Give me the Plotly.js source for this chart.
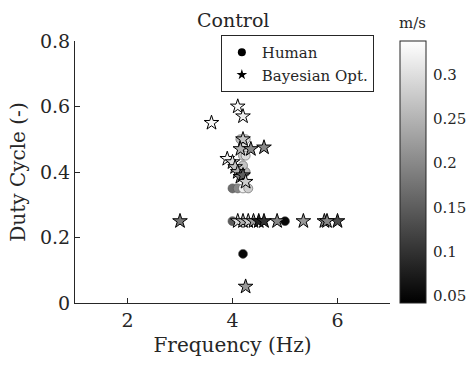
<!DOCTYPE html>
<html><head><meta charset="utf-8">
<script src="https://cdn.plot.ly/plotly-3.0.1.min.js"></script>
<style>html,body{margin:0;padding:0;background:#fff}#chart{width:471px;height:369px}</style>
</head><body><div id="chart"></div>
<script>
// Human trials
const humanFreq  = [4.0, 5.0, 4.2, 4.0, 4.1, 4.2, 4.3, 4.25, 4.2, 4.2, 4.25, 4.2, 4.25, 4.15];
const humanDuty  = [0.25, 0.25, 0.15, 0.35, 0.35, 0.35, 0.35, 0.40, 0.42, 0.45, 0.45, 0.48, 0.50, 0.50];
const humanSpeed = [0.15, 0.05, 0.05, 0.17, 0.20, 0.32, 0.28, 0.25, 0.27, 0.28, 0.30, 0.30, 0.30, 0.26];
// Bayesian optimisation trials
const boFreq  = [3.0, 3.6, 4.1, 4.2, 4.6, 4.25, 4.2, 4.15, 4.35, 3.9, 4.0, 4.05, 4.1, 4.15, 4.2, 4.25,
                 4.1, 4.2, 4.3, 4.4, 4.5, 4.6, 4.85, 5.35, 5.75, 6.0, 5.8];
const boDuty  = [0.25, 0.55, 0.60, 0.57, 0.475, 0.05, 0.50, 0.47, 0.47, 0.44, 0.43, 0.415, 0.40, 0.385, 0.39, 0.37,
                 0.25, 0.25, 0.25, 0.25, 0.25, 0.25, 0.25, 0.25, 0.25, 0.25, 0.25];
const boSpeed = [0.18, 0.33, 0.33, 0.32, 0.20, 0.22, 0.27, 0.25, 0.20, 0.33, 0.30, 0.27, 0.25, 0.20, 0.15, 0.28,
                 0.30, 0.25, 0.28, 0.22, 0.08, 0.10, 0.20, 0.22, 0.20, 0.13, 0.20];
const legendNames = ['Human', 'Bayesian Opt.'];
const cbTicks = [0.05, 0.1, 0.15, 0.2, 0.25, 0.3];

const serif = 'DejaVu Serif, serif';
const cs = [[0, '#000000'], [1, '#ffffff']];
const cmin = 0.042, cmax = 0.338;

const traces = [
  {x: humanFreq, y: humanDuty, type: 'scatter', mode: 'markers', showlegend: false,
   marker: {symbol: 'circle', size: 9, color: humanSpeed, colorscale: cs, cmin: cmin, cmax: cmax,
            line: {color: '#555', width: 0.6}, showscale: false}},
  {x: boFreq, y: boDuty, type: 'scatter', mode: 'markers', showlegend: false,
   marker: {symbol: 'star', size: 11, color: boSpeed, colorscale: cs, cmin: cmin, cmax: cmax,
            line: {color: '#000', width: 1},
            showscale: true,
            colorbar: {x: 1.032, xanchor: 'left', y: 0, yanchor: 'bottom', len: 1, lenmode: 'fraction',
                       thickness: 26, thicknessmode: 'pixels', outlinecolor: '#262626', outlinewidth: 1,
                       tickvals: cbTicks, ticktext: cbTicks.map(String), ticks: 'outside', ticklen: 4,
                       tickcolor: 'rgba(0,0,0,0)', tickfont: {family: serif, size: 15, color: '#262626'},
                       xpad: 0, ypad: 0}}},
  {x: [null], y: [null], type: 'scatter', mode: 'markers', name: legendNames[0],
   marker: {symbol: 'circle', size: 8, color: '#000'}},
  {x: [null], y: [null], type: 'scatter', mode: 'markers', name: legendNames[1],
   marker: {symbol: 'star', size: 8, color: '#000'}}
];

const layout = {
  width: 471, height: 369,
  margin: {l: 75, r: 81, t: 41, b: 66, autoexpand: false},
  paper_bgcolor: '#fff', plot_bgcolor: '#fff',
  annotations: [
    {text: 'Control', xref: 'paper', yref: 'paper', x: 0.5, y: 1.03, xanchor: 'center', yanchor: 'bottom',
     showarrow: false, font: {family: serif, size: 19, color: '#262626', weight: 'normal'}},
    {text: 'm/s', xref: 'paper', yref: 'paper', x: 1.073, y: 1.025, xanchor: 'center', yanchor: 'bottom',
     showarrow: false, font: {family: serif, size: 15, color: '#262626'}}],
  xaxis: {range: [1, 7], tickvals: [2, 4, 6], ticks: 'inside', ticklen: 5, tickcolor: '#262626',
          showline: true, linecolor: '#262626', linewidth: 1, showgrid: false, zeroline: false,
          tickfont: {family: serif, size: 19, color: '#262626'},
          title: {text: 'Frequency (Hz)', standoff: 8, font: {family: serif, size: 20, color: '#262626'}}},
  yaxis: {range: [0, 0.8], tickvals: [0, 0.2, 0.4, 0.6, 0.8], ticktext: ['0', '0.2', '0.4', '0.6', '0.8'],
          ticks: 'inside', ticklen: 5, tickcolor: '#262626',
          showline: true, linecolor: '#262626', linewidth: 1, showgrid: false, zeroline: false,
          tickfont: {family: serif, size: 19, color: '#262626'},
          title: {text: 'Duty Cycle (-)', standoff: 8, font: {family: serif, size: 20, color: '#262626'}}},
  legend: {x: 0.463, xanchor: 'left', y: 1.023, yanchor: 'top', bgcolor: '#fff',
           bordercolor: '#262626', borderwidth: 1, tracegroupgap: 0, itemwidth: 30,
           font: {family: serif, size: 15, color: '#262626', weight: 'normal'}},
  showlegend: true
};

Plotly.newPlot('chart', traces, layout, {displayModeBar: false, staticPlot: true});
</script>
</body></html>
